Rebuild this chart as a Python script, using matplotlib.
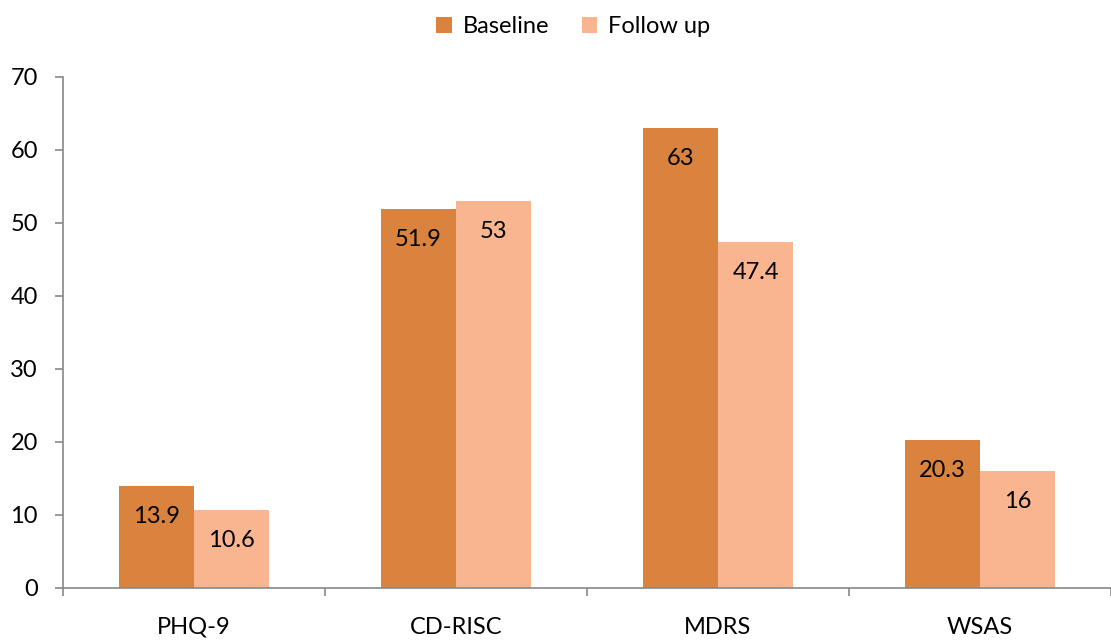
import numpy as np
import matplotlib
matplotlib.use("Agg")
import matplotlib.pyplot as plt

plt.rcParams['font.family'] = ['Lato', 'DejaVu Sans']

categories = ['PHQ-9', 'CD-RISC', 'MDRS', 'WSAS']
baseline = [13.9, 51.9, 63, 20.3]
follow_up = [10.6, 53, 47.4, 16]
labels_base = ['13.9', '51.9', '63', '20.3']
labels_follow = ['10.6', '53', '47.4', '16']

c_base = '#DA833E'
c_follow = '#F8B590'

fig = plt.figure(figsize=(11.11, 6.41), dpi=100)
ax = fig.add_axes([0.0566, 0.0832, 0.9434, 0.797])

x = np.arange(len(categories))
w = 0.287
b1 = ax.bar(x - w / 2, baseline, w, color=c_base, label='Baseline')
b2 = ax.bar(x + w / 2, follow_up, w, color=c_follow, label='Follow up')

for bars, labs in ((b1, labels_base), (b2, labels_follow)):
    for bar, lab in zip(bars, labs):
        ax.annotate(lab, (bar.get_x() + bar.get_width() / 2, bar.get_height()),
                    xytext=(0, -22), textcoords='offset points',
                    ha='center', va='center', fontsize=17, color='black')

ax.set_ylim(0, 70)
ax.set_xlim(-0.5, 3.455)
ax.set_yticks(range(0, 71, 10))
ax.set_xticks(x)
ax.set_xticklabels(categories)
ax.set_xticks(np.arange(-0.5, 3.6, 1), minor=True)
ax.tick_params(axis='x', which='major', length=0, pad=21, labelsize=17)
ax.tick_params(axis='x', which='minor', length=6, width=1.2, color='#888888')
ax.tick_params(axis='y', length=6, width=1.2, color='#888888', pad=12, labelsize=17)

for s in ('top', 'right'):
    ax.spines[s].set_visible(False)
for s in ('left', 'bottom'):
    ax.spines[s].set_color('#888888')
    ax.spines[s].set_linewidth(1.2)

fig.legend(loc='upper center', bbox_to_anchor=(0.516, 1.008), ncol=2, frameon=False,
           fontsize=17, handlelength=0.65, handleheight=0.65, handletextpad=0.45,
           columnspacing=1.4)

fig.savefig('out.png', dpi=100)
